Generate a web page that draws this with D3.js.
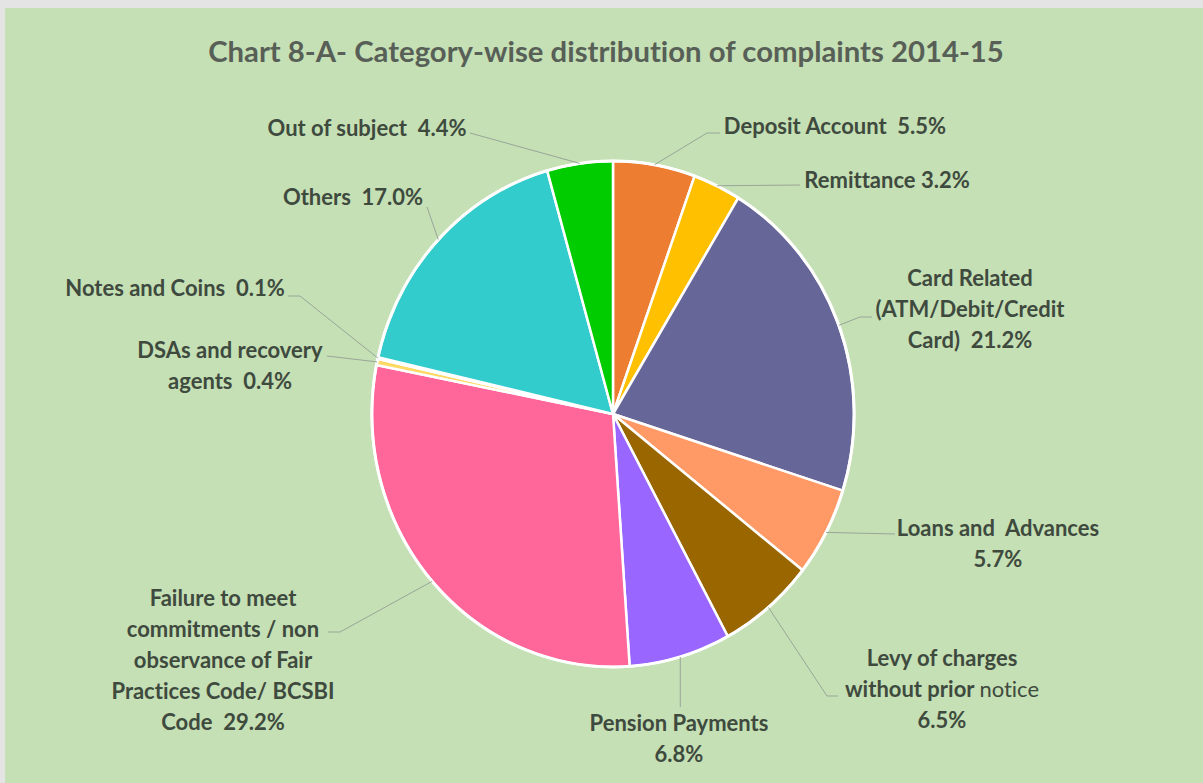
<!DOCTYPE html>
<html>
<head>
<meta charset="utf-8">
<script src="https://cdn.jsdelivr.net/npm/d3@7"></script>
<style>
  html, body { margin: 0; padding: 0; background: #e4e4e4; }
  svg { display: block; }
  text { white-space: pre; font-variant-ligatures: none; font-feature-settings: "liga" 0, "clig" 0; }
</style>
</head>
<body>
<svg id="chart" width="1203" height="783"></svg>
<script>
// ---------- data ----------
const title = "Chart 8-A- Category-wise distribution of complaints 2014-15";
const categories = [
  "Deposit Account", "Remittance", "Card Related (ATM/Debit/Credit Card)",
  "Loans and Advances", "Levy of charges without prior notice", "Pension Payments",
  "Failure to meet commitments / non observance of Fair Practices Code/ BCSBI Code",
  "DSAs and recovery agents", "Notes and Coins", "Others", "Out of subject"
];
const shares = [5.5, 3.2, 21.2, 5.7, 6.5, 6.8, 29.2, 0.4, 0.1, 17.0, 4.4];
const sliceColors = ["#ED7D31", "#FFC000", "#666699", "#FF9966", "#996600", "#9966FF",
                     "#FF6699", "#FFD966", "#F8CBAD", "#33CCCC", "#00CC00"];
// label lines; {p} = percentage, "|" splits bold | regular part
const labelLines = [
  ["Deposit Account  {p}"],
  ["Remittance {p}"],
  ["Card Related", "(ATM/Debit/Credit", "Card)  {p}"],
  ["Loans and  Advances", "{p}"],
  ["Levy of charges", "without prior |notice", "{p}"],
  ["Pension Payments", "{p}"],
  ["Failure to meet", "commitments / non", "observance of Fair", "Practices Code/ BCSBI", "Code  {p}"],
  ["DSAs and recovery", "agents  {p}"],
  ["Notes and Coins  {p}"],
  ["Others  {p}"],
  ["Out of subject  {p}"]
];

// ---------- layout ----------
const W = 1203, H = 783;
const cx = 613, cy = 414, R = 253, sx = 0.953;
const lineH = 31;
// label centre x, first line centre y, leader anchor (ax, ay) and elbow (ex, ey)
const labelPos = [
  {x: 835, y: 126, ax: 720, ay: 133, ex: 707, ey: 133},
  {x: 887, y: 180, ax: 800, ay: 185, ex: 800, ey: 185},
  {x: 970, y: 278, ax: 872, ay: 317, ex: 860, ey: 317},
  {x: 998, y: 528, ax: 895, ay: 534, ex: 895, ey: 534},
  {x: 942, y: 658, ax: 838, ay: 696, ex: 827, ey: 696},
  {x: 679, y: 723, ax: null, ay: 707, ex: null, ey: 707},
  {x: 223, y: 598, ax: 328, ay: 632, ex: 340, ey: 632},
  {x: 230, y: 350, ax: 327, ay: 356, ex: 327, ey: 356},
  {x: 175, y: 288, ax: 288, ay: 296, ex: 300, ey: 296},
  {x: 353, y: 197, ax: 427, ay: 207, ex: 427, ey: 207},
  {x: 367, y: 128, ax: 470, ay: 133, ex: 470, ey: 133}
];

const svg = d3.select("#chart");
svg.append("rect").attr("x", 5).attr("y", 8).attr("width", W - 5).attr("height", H - 8)
  .attr("fill", "#C5E0B4");

svg.append("text")
  .attr("x", 606).attr("y", 62)
  .attr("text-anchor", "middle")
  .attr("font-family", "Lato, 'Open Sans', sans-serif")
  .attr("font-weight", "bold")
  .attr("font-size", 29.3)
  .attr("fill", "#575f57")
  .text(title);

const pie = d3.pie().sort(null).value(d => d);
const arcs = pie(shares);
const arc = d3.arc().innerRadius(0).outerRadius(R);

const g = svg.append("g").attr("transform", `translate(${cx},${cy}) scale(${sx},1)`);
g.selectAll("path").data(arcs).join("path")
  .attr("d", arc)
  .attr("fill", (d, i) => sliceColors[i])
  .attr("stroke", "#ffffff")
  .attr("stroke-width", 2.5)
  .attr("vector-effect", "non-scaling-stroke")
  .attr("stroke-linejoin", "round");
g.append("circle").attr("r", R).attr("fill", "none")
  .attr("stroke", "#ffffff").attr("stroke-width", 3)
  .attr("vector-effect", "non-scaling-stroke");

const fmt = v => d3.format(".1f")(v) + "%";

// leader lines
const leaders = svg.append("g");
arcs.forEach((a, i) => {
  const mid = (a.startAngle + a.endAngle) / 2;
  const px = cx + sx * R * Math.sin(mid);
  const py = cy - R * Math.cos(mid);
  const L = labelPos[i];
  const ax = L.ax == null ? px : L.ax;
  const ex = L.ex == null ? px : L.ex;
  leaders.append("polyline")
    .attr("points", [[ax, L.ay], [ex, L.ey], [px, py]].map(p => p.join(",")).join(" "))
    .attr("fill", "none").attr("stroke", "#9aa59a").attr("stroke-width", 1);
});

// labels
const labels = svg.append("g")
  .attr("font-family", "Lato, 'Open Sans', sans-serif")
  .attr("font-size", 22)
  .attr("fill", "#3f4a3f")
  .attr("text-anchor", "middle");
labelLines.forEach((lines, i) => {
  const L = labelPos[i];
  lines.forEach((ln, j) => {
    const s = ln.replace("{p}", fmt(shares[i]));
    const t = labels.append("text")
      .attr("x", L.x).attr("y", L.y + j * lineH).attr("dy", "0.35em");
    const parts = s.split("|");
    t.append("tspan").attr("font-weight", "bold").text(parts[0]);
    if (parts.length > 1) t.append("tspan").attr("font-weight", "normal").text(parts[1]);
  });
});
</script>
</body>
</html>
